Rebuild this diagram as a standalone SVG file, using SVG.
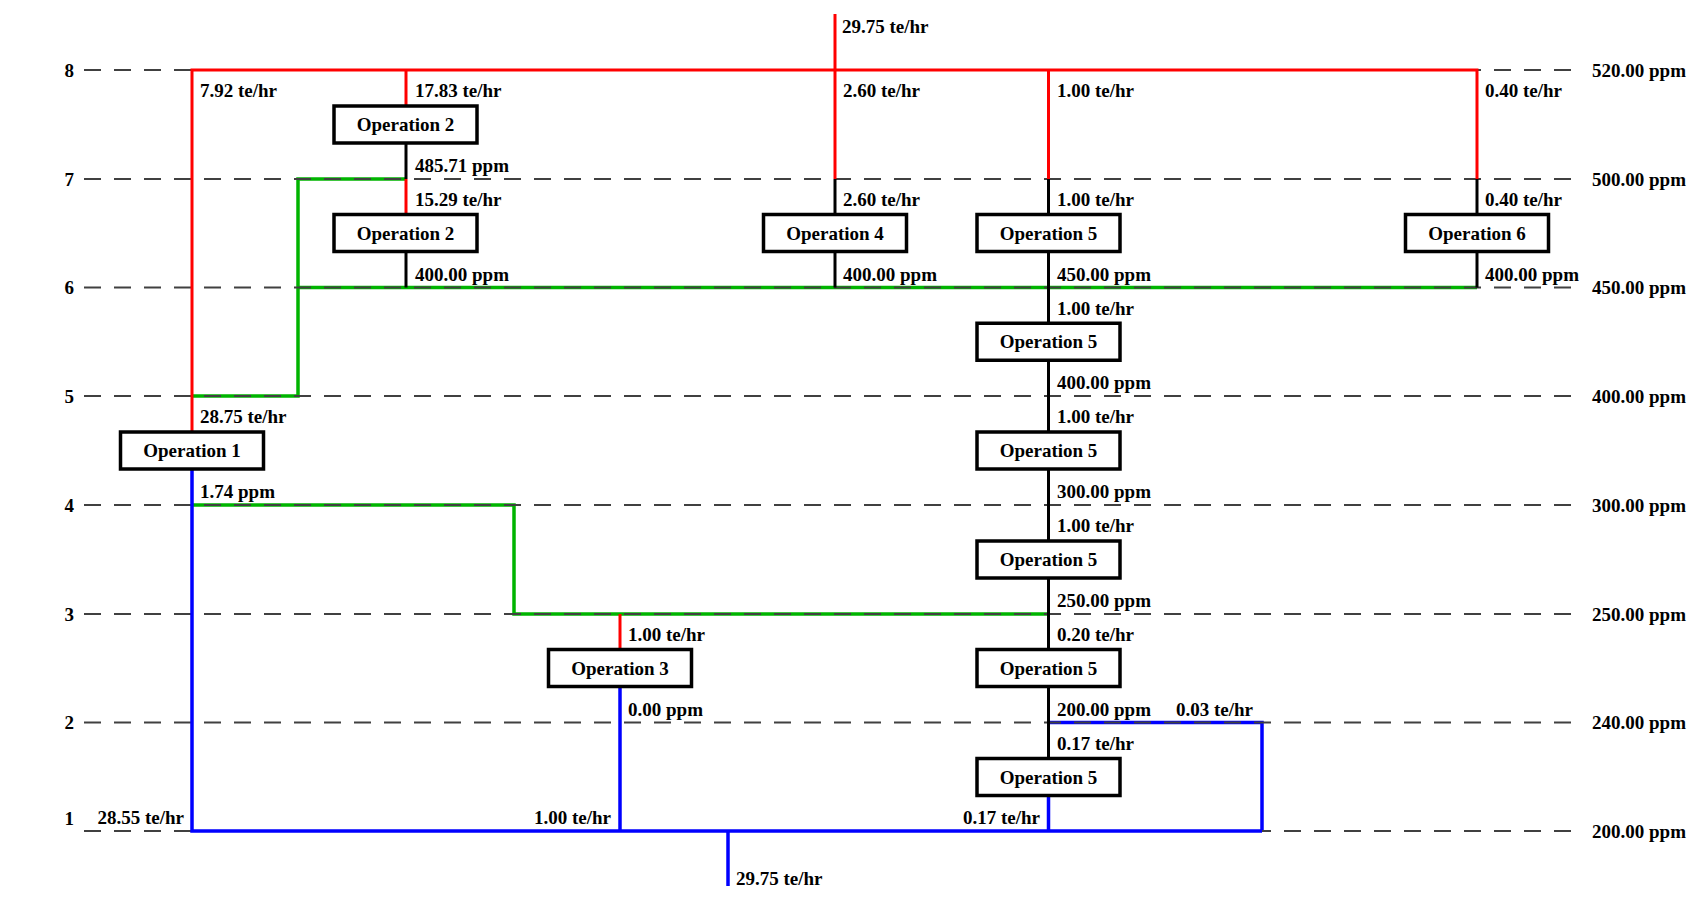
<svg xmlns="http://www.w3.org/2000/svg" width="1693" height="897" viewBox="0 0 1693 897">
<style>
text{font-family:"Liberation Serif","Times New Roman",serif;font-weight:bold;font-size:19px;fill:#000}
.c{text-anchor:middle}
.e{text-anchor:end}
.dash{stroke:#404040;stroke-width:2;stroke-dasharray:17 13;fill:none}
.red{stroke:#ff0000;stroke-width:3;fill:none}
.grn{stroke:#00b400;stroke-width:3.5;fill:none}
.blu{stroke:#0000ff;stroke-width:3.5;fill:none}
.blk{stroke:#000;stroke-width:3;fill:none}
.box{fill:#fff;stroke:#000;stroke-width:3.5}
</style>
<rect width="1693" height="897" fill="#fff"/>
<g id="connectors">
<g id="green-lines">
<polyline class="grn" points="406,179 298,179 298,396 192,396"/>
<polyline class="grn" points="298,287.5 1477,287.5"/>
<polyline class="grn" points="192,505 514,505 514,614 1048.5,614"/>
<polyline class="blu" points="1048.5,722.5 1262,722.5 1262,831"/>
</g>
<g id="levels">
<line class="dash" x1="84" y1="70" x2="1577" y2="70"/>
<line class="dash" x1="84" y1="179" x2="1577" y2="179"/>
<line class="dash" x1="84" y1="287.5" x2="1577" y2="287.5"/>
<line class="dash" x1="84" y1="396" x2="1577" y2="396"/>
<line class="dash" x1="84" y1="505" x2="1577" y2="505"/>
<line class="dash" x1="84" y1="614" x2="1577" y2="614"/>
<line class="dash" x1="84" y1="722.5" x2="1577" y2="722.5"/>
<line class="dash" x1="84" y1="831" x2="1577" y2="831"/>
</g>
<g id="red-lines">
<polyline class="red" points="192,432 192,70 1477,70 1477,179"/>
<line class="red" x1="835" y1="14" x2="835" y2="179"/>
<line class="red" x1="406" y1="70" x2="406" y2="106"/>
<line class="red" x1="406" y1="179" x2="406" y2="214.5"/>
<line class="red" x1="1048.5" y1="70" x2="1048.5" y2="179"/>
<line class="red" x1="620" y1="614" x2="620" y2="649.5"/>
</g>
<g id="blue-lines">
<polyline class="blu" points="192,469 192,831 1262,831"/>
<line class="blu" x1="620" y1="686.5" x2="620" y2="831"/>
<line class="blu" x1="1048.5" y1="795.5" x2="1048.5" y2="831"/>
<line class="blu" x1="728" y1="831" x2="728" y2="886"/>
</g>
<g id="black-lines">
<line class="blk" x1="406" y1="143" x2="406" y2="179"/>
<line class="blk" x1="406" y1="251.5" x2="406" y2="287.5"/>
<line class="blk" x1="835" y1="179" x2="835" y2="287.5"/>
<line class="blk" x1="1048.5" y1="179" x2="1048.5" y2="758.5"/>
<line class="blk" x1="1477" y1="179" x2="1477" y2="287.5"/>
</g>
</g>
<g id="op2a"><rect class="box" x="334" y="106" width="143" height="37"/><text class="c" x="405.5" y="131">Operation 2</text></g>
<g id="op2b"><rect class="box" x="334" y="214.5" width="143" height="37"/><text class="c" x="405.5" y="239.5">Operation 2</text></g>
<g id="op4"><rect class="box" x="763.5" y="214.5" width="143" height="37"/><text class="c" x="835" y="239.5">Operation 4</text></g>
<g id="op5a"><rect class="box" x="977" y="214.5" width="143" height="37"/><text class="c" x="1048.5" y="239.5">Operation 5</text></g>
<g id="op6"><rect class="box" x="1405.5" y="214.5" width="143" height="37"/><text class="c" x="1477" y="239.5">Operation 6</text></g>
<g id="op5b"><rect class="box" x="977" y="323.25" width="143" height="37"/><text class="c" x="1048.5" y="348.25">Operation 5</text></g>
<g id="op1"><rect class="box" x="120.5" y="432" width="143" height="37"/><text class="c" x="192" y="457">Operation 1</text></g>
<g id="op5c"><rect class="box" x="977" y="432" width="143" height="37"/><text class="c" x="1048.5" y="457">Operation 5</text></g>
<g id="op5d"><rect class="box" x="977" y="541" width="143" height="37"/><text class="c" x="1048.5" y="566">Operation 5</text></g>
<g id="op3"><rect class="box" x="548.5" y="649.5" width="143" height="37"/><text class="c" x="620" y="674.5">Operation 3</text></g>
<g id="op5e"><rect class="box" x="977" y="649.5" width="143" height="37"/><text class="c" x="1048.5" y="674.5">Operation 5</text></g>
<g id="op5f"><rect class="box" x="977" y="758.5" width="143" height="37"/><text class="c" x="1048.5" y="783.5">Operation 5</text></g>
<g id="level-labels">
<text class="e" x="74" y="76.5">8</text>
<text class="e" x="74" y="185.5">7</text>
<text class="e" x="74" y="294">6</text>
<text class="e" x="74" y="402.5">5</text>
<text class="e" x="74" y="511.5">4</text>
<text class="e" x="74" y="620.5">3</text>
<text class="e" x="74" y="729">2</text>
<text class="e" x="74" y="825">1</text>
<text x="1592" y="76.5">520.00 ppm</text>
<text x="1592" y="185.5">500.00 ppm</text>
<text x="1592" y="294">450.00 ppm</text>
<text x="1592" y="402.5">400.00 ppm</text>
<text x="1592" y="511.5">300.00 ppm</text>
<text x="1592" y="620.5">250.00 ppm</text>
<text x="1592" y="729">240.00 ppm</text>
<text x="1592" y="837.5">200.00 ppm</text>
</g>
<g id="stream-labels">
<text x="842" y="33">29.75 te/hr</text>
<text x="200" y="97">7.92 te/hr</text>
<text x="415" y="97">17.83 te/hr</text>
<text x="843" y="97">2.60 te/hr</text>
<text x="1057" y="97">1.00 te/hr</text>
<text x="1485" y="97">0.40 te/hr</text>
<text x="415" y="172">485.71 ppm</text>
<text x="415" y="206">15.29 te/hr</text>
<text x="843" y="206">2.60 te/hr</text>
<text x="1057" y="206">1.00 te/hr</text>
<text x="1485" y="206">0.40 te/hr</text>
<text x="415" y="280.5">400.00 ppm</text>
<text x="843" y="280.5">400.00 ppm</text>
<text x="1057" y="280.5">450.00 ppm</text>
<text x="1485" y="280.5">400.00 ppm</text>
<text x="1057" y="314.5">1.00 te/hr</text>
<text x="1057" y="389">400.00 ppm</text>
<text x="200" y="423">28.75 te/hr</text>
<text x="1057" y="423">1.00 te/hr</text>
<text x="200" y="498">1.74 ppm</text>
<text x="1057" y="498">300.00 ppm</text>
<text x="1057" y="532">1.00 te/hr</text>
<text x="1057" y="607">250.00 ppm</text>
<text x="628" y="641">1.00 te/hr</text>
<text x="1057" y="641">0.20 te/hr</text>
<text x="628" y="715.5">0.00 ppm</text>
<text x="1057" y="715.5">200.00 ppm</text>
<text x="1176" y="715.5">0.03 te/hr</text>
<text x="1057" y="749.5">0.17 te/hr</text>
<text class="e" x="184" y="824">28.55 te/hr</text>
<text class="e" x="611" y="824">1.00 te/hr</text>
<text class="e" x="1040" y="824">0.17 te/hr</text>
<text x="736" y="885">29.75 te/hr</text>
</g>
</svg>
